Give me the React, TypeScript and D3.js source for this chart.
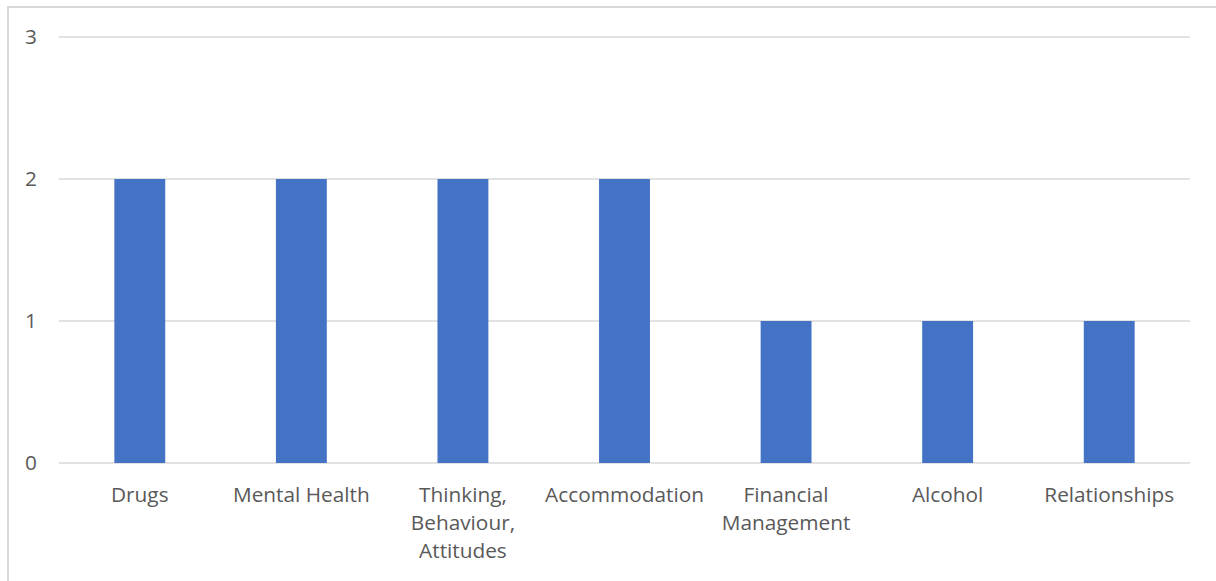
import React from "react";
import * as d3 from "d3";

const categories: string[][] = [
  ["Drugs"],
  ["Mental Health"],
  ["Thinking,", "Behaviour,", "Attitudes"],
  ["Accommodation"],
  ["Financial", "Management"],
  ["Alcohol"],
  ["Relationships"],
];
const values: number[] = [2, 2, 2, 2, 1, 1, 1];
const yTicks: number[] = [0, 1, 2, 3];

const W = 1216;
const H = 581;
const margin = { left: 59, right: 26, top: 37, bottom: 118 };
const FONT = "'Open Sans', 'Noto Sans', sans-serif";
const FS = 20.8;

export default function App() {
  const keys = categories.map((c) => c.join(" "));
  const x = d3
    .scaleBand<string>()
    .domain(keys)
    .range([margin.left, W - margin.right])
    .paddingInner(0.685)
    .paddingOuter(0.3425);
  const y = d3.scaleLinear().domain([0, 3]).range([H - margin.bottom, margin.top]);

  return (
    <svg
      width={W}
      height={H}
      style={{ position: "absolute", left: 0, top: 0, background: "#fff" }}
    >
      <rect x={8} y={7} width={W + 20} height={H + 20} fill="#fff" stroke="#d9d9d9" strokeWidth={2} />
      {yTicks.map((t) => (
        <g key={t}>
          <line
            x1={margin.left}
            x2={W - margin.right}
            y1={y(t)}
            y2={y(t)}
            stroke="#d9d9d9"
            strokeWidth={1.5}
          />
          <text
            x={37}
            y={y(t)}
            dy="0.35em"
            textAnchor="end"
            fontFamily={FONT}
            fontSize={FS}
            fill="#595959"
          >
            {t}
          </text>
        </g>
      ))}
      {values.map((v, i) => (
        <rect
          key={keys[i]}
          x={x(keys[i])}
          y={y(v)}
          width={x.bandwidth()}
          height={y(0) - y(v)}
          fill="#4472c4"
        />
      ))}
      {categories.map((lines, i) => (
        <text
          key={keys[i]}
          x={(x(keys[i]) as number) + x.bandwidth() / 2}
          y={y(0) + 39}
          textAnchor="middle"
          fontFamily={FONT}
          fontSize={FS}
          fill="#595959"
        >
          {lines.map((l, j) => (
            <tspan key={j} x={(x(keys[i]) as number) + x.bandwidth() / 2} dy={j === 0 ? 0 : 28}>
              {l}
            </tspan>
          ))}
        </text>
      ))}
    </svg>
  );
}
